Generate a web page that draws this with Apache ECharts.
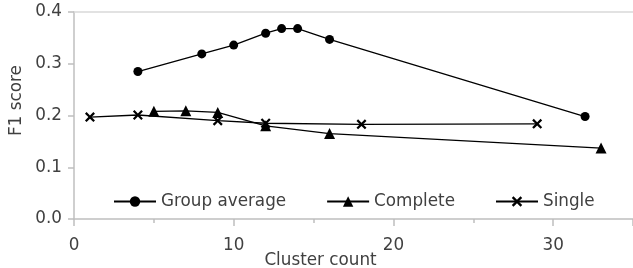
<!DOCTYPE html>
<html>
<head>
<meta charset="utf-8">
<script src="https://cdn.jsdelivr.net/npm/echarts@6/dist/echarts.min.js"></script>
<style>
  html, body { margin: 0; padding: 0; background: #fff; }
  #chart { width: 633px; height: 268px; }
</style>
</head>
<body>
<div id="chart"></div>
<script>
// data
var groupAvgX = [4, 8, 10, 12, 13, 14, 16, 32];
var groupAvgY = [0.285, 0.319, 0.336, 0.359, 0.368, 0.368, 0.347, 0.198];
var completeX = [5, 7, 9, 12, 16, 33];
var completeY = [0.208, 0.209, 0.206, 0.180, 0.165, 0.137];
var singleX = [1, 4, 9, 12, 18, 29];
var singleY = [0.197, 0.201, 0.190, 0.185, 0.183, 0.184];
var seriesNames = ['Group average', 'Complete', 'Single'];

function pairs(xs, ys) {
    return xs.map(function (x, i) { return [x, ys[i]]; });
}

var font = 'DejaVu Sans, sans-serif';
var fontSize = 16.8;
var textColor = '#404040';
var axisGray = '#bfbfbf';
var crossPath = 'path://M0,1.6L1.6,0L5,3.4L8.4,0L10,1.6L6.6,5L10,8.4L8.4,10L5,6.6L1.6,10L0,8.4L3.4,5Z';

var myChart = echarts.init(document.getElementById('chart'));

var lineSeries = function (name, data, symbol, size) {
    return {
        name: name,
        type: 'line',
        data: data,
        symbol: symbol,
        symbolSize: size,
        showSymbol: true,
        color: '#000',
        lineStyle: { color: '#000', width: 1.3 },
        itemStyle: { color: '#000' },
        z: 3
    };
};

myChart.setOption({
    animation: false,
    grid: { left: 74, right: 0, top: 12, bottom: 49, outerBoundsMode: 'none' },
    legend: {
        data: seriesNames,
        left: 108,
        top: 188,
        itemWidth: 42,
        itemHeight: 13,
        itemGap: 40,
        textStyle: { fontFamily: font, fontSize: fontSize, color: textColor }
    },
    xAxis: [{
        type: 'value',
        min: 0, max: 35, interval: 10,
        name: 'Cluster count',
        nameLocation: 'middle',
        nameGap: 33,
        nameMoveOverlap: false,
        nameTextStyle: { fontFamily: font, fontSize: fontSize, color: textColor, padding: [0, 66, 0, 0] },
        axisLine: { show: true, lineStyle: { color: axisGray, width: 1.5 } },
        axisTick: { show: true, length: 7, lineStyle: { color: axisGray, width: 1.5 } },
        axisLabel: {
            margin: 18,
            fontFamily: font, fontSize: fontSize, color: textColor,
            formatter: function (v) { return v % 10 === 0 ? String(v) : ''; }
        },
        splitLine: { show: false }
    }, {
        type: 'value',
        min: 0, max: 35, interval: 5,
        position: 'bottom',
        axisLine: { show: false },
        axisTick: { show: true, length: 4, lineStyle: { color: axisGray, width: 1.5 } },
        axisLabel: { show: false },
        splitLine: { show: false }
    }, {
        type: 'value',
        min: 0, max: 35,
        position: 'top',
        axisLine: { show: true, lineStyle: { color: '#d9d9d9', width: 1.5 } },
        axisTick: { show: false },
        axisLabel: { show: false },
        splitLine: { show: false }
    }],
    yAxis: {
        type: 'value',
        min: 0, max: 0.4, interval: 0.1,
        name: 'F1 score',
        nameLocation: 'middle',
        nameGap: 49,
        nameMoveOverlap: false,
        nameTextStyle: { fontFamily: font, fontSize: fontSize, color: textColor, padding: [0, 0, 0, 30] },
        axisLine: { show: true, lineStyle: { color: axisGray, width: 1.5 } },
        axisTick: { show: true, length: 6, lineStyle: { color: axisGray, width: 1.5 } },
        axisLabel: {
            margin: 12,
            fontFamily: font, fontSize: fontSize, color: textColor,
            formatter: function (v) { return v.toFixed(1); }
        },
        splitLine: { show: false }
    },
    series: [
        lineSeries(seriesNames[0], pairs(groupAvgX, groupAvgY), 'circle', 9),
        lineSeries(seriesNames[1], pairs(completeX, completeY), 'triangle', 11),
        lineSeries(seriesNames[2], pairs(singleX, singleY), crossPath, 10)
    ]
});
</script>
</body>
</html>
